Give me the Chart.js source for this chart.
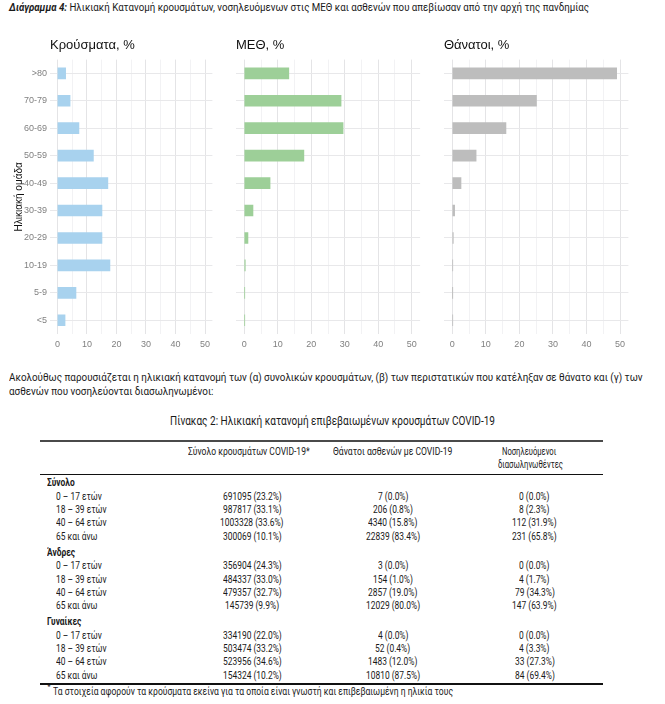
<!DOCTYPE html>
<html><head><meta charset="utf-8">
<script src="https://cdn.jsdelivr.net/npm/chart.js@4.4.1/dist/chart.umd.min.js"></script>
<style>
html,body{margin:0;padding:0;background:#fff;width:665px;height:704px;overflow:hidden;}
body{position:relative;font-family:Roboto,"Noto Sans",sans-serif;color:#1a1a1a;}
.t{position:absolute;white-space:nowrap;line-height:1;}
canvas{position:absolute;}
.rule{position:absolute;}
</style></head><body>
<canvas id="c1" width="216" height="320" style="left:0px;top:30px"></canvas>
<canvas id="c2" width="197" height="320" style="left:226px;top:30px"></canvas>
<canvas id="c3" width="197" height="320" style="left:434px;top:30px"></canvas>
<script>
// ---- chart data ----
const ageLabels = [">80","70-79","60-69","50-59","40-49","30-39","20-29","10-19","5-9","<5"];
const casesPct  = [2.8, 4.3, 7.3, 12.2, 17.1, 15.1, 15.1, 17.8, 6.3, 2.6];
const icuPct    = [13.3, 28.9, 29.5, 17.8, 7.7, 2.6, 1.1, 0.3, 0.1, 0.1];
const deathsPct = [49.0, 25.1, 16.0, 7.1, 2.6, 0.7, 0.3, 0.1, 0.05, 0.1];
const xTickValues = [0,5,10,15,20,25,30,35,40,45,50];
const panelTitles = ["Κρούσματα, %","ΜΕΘ, %","Θάνατοι, %"];
const yAxisTitle = "Ηλικιακή ομάδα";

// ---- table data ----
const tableSections = ["Σύνολο","Άνδρες","Γυναίκες"];
const tableAgeGroups = ["0 – 17 ετών","18 – 39 ετών","40 – 64 ετών","65 και άνω"];
const tableHeaders = ["Σύνολο κρουσμάτων COVID-19*","Θάνατοι ασθενών με COVID-19","Νοσηλευόμενοι","διασωληνωθέντες"];
const casesAll = [691095, 987817, 1003328, 300069];   const casesAllPct = [23.2, 33.1, 33.6, 10.1];
const deathsAll = [7, 206, 4340, 22839];             const deathsAllPct = [0.0, 0.8, 15.8, 83.4];
const icuAll = [0, 8, 112, 231];                     const icuAllPct = [0.0, 2.3, 31.9, 65.8];
const casesMen = [356904, 484337, 479357, 145739];   const casesMenPct = [24.3, 33.0, 32.7, 9.9];
const deathsMen = [3, 154, 2857, 12029];             const deathsMenPct = [0.0, 1.0, 19.0, 80.0];
const icuMen = [0, 4, 79, 147];                      const icuMenPct = [0.0, 1.7, 34.3, 63.9];
const casesWomen = [334190, 503474, 523956, 154324]; const casesWomenPct = [22.0, 33.2, 34.6, 10.2];
const deathsWomen = [4, 52, 1483, 10810];            const deathsWomenPct = [0.0, 0.4, 12.0, 87.5];
const icuWomen = [0, 4, 33, 84];                     const icuWomenPct = [0.0, 3.3, 27.3, 69.4];

const chartFont = "'Liberation Sans', Arial, sans-serif";

function makeChart(id, values, color, title, o) {
  new Chart(document.getElementById(id), {
    type: 'bar',
    data: { labels: ageLabels, datasets: [{ data: values, backgroundColor: color, borderWidth: 0, barThickness: 11 }] },
    options: {
      indexAxis: 'y', responsive: false, animation: false,
      layout: { padding: { left: o.padLeft, right: o.padRight, top: 0, bottom: 0 } },
      plugins: {
        legend: { display: false }, tooltip: { enabled: false },
        title: { display: true, text: title, align: 'start', fullSize: false, color: '#111',
                 font: { family: chartFont, size: 13, weight: 'normal', lineHeight: 1.2 },
                 padding: { top: 7.2, bottom: 6.8 } }
      },
      scales: {
        x: {
          type: 'linear', min: -2.5, max: 52.5,
          afterBuildTicks: s => { s.ticks = xTickValues.map(v => ({ value: v })); },
          afterFit: s => { s.height = 16; },
          ticks: { autoSkip: false, maxRotation: 0, padding: 5, color: '#808080',
                   font: { family: chartFont, size: 9 },
                   callback: v => (v % 10 === 0 ? String(v) : '') },
          grid: { drawTicks: false,
                  color: c => (c.tick && c.tick.value % 10 === 0 ? '#e4e4e6' : '#efeff1'),
                  lineWidth: c => (c.tick && c.tick.value % 10 === 0 ? 1 : 0.8) },
          border: { display: false }
        },
        y: {
          type: 'category', offset: true,
          afterFit: s => { s.width = o.yWidth; },
          ticks: { display: o.showY, padding: 3, color: '#808080', font: { family: chartFont, size: 9 } },
          grid: { offset: false, drawTicks: false, color: '#e8e8ea', lineWidth: 1 },
          border: { display: false },
          title: { display: o.showY, text: yAxisTitle, color: '#111',
                   font: { family: chartFont, size: 10, lineHeight: 1.2 }, padding: { top: 13, bottom: 0 } }
        }
      }
    }
  });
}

makeChart('c1', casesPct, '#a8d2ee', panelTitles[0], { padLeft: 0, padRight: 3.6, yWidth: 50, showY: true });
makeChart('c2', icuPct, '#9dcf98', panelTitles[1], { padLeft: 9.9, padRight: 2.9, yWidth: 0, showY: false });
makeChart('c3', deathsPct, '#bdbdbd', panelTitles[2], { padLeft: 9.9, padRight: 2.6, yWidth: 0, showY: false });

// ---- text helpers ----
function txt(html, x, y, o) {
  const el = document.createElement('div');
  el.className = 't';
  el.innerHTML = html;
  el.style.fontSize = o.fs + 'px';
  if (o.bold) el.style.fontWeight = 'bold';
  el.style.top = (y - o.fs * 0.55) + 'px';
  el.style.left = '0px';
  document.body.appendChild(el);
  const w = el.getBoundingClientRect().width;
  const s = o.w ? o.w / w : (o.sx || 1);
  el.style.transformOrigin = '0 0';
  el.style.transform = 'scaleX(' + s + ')';
  el.style.left = (o.align === 'center' ? x - w * s / 2 : x) + 'px';
  return s;
}
function rule(x1, x2, y, h, c) {
  const el = document.createElement('div');
  el.className = 'rule';
  el.style.left = x1 + 'px'; el.style.width = (x2 - x1) + 'px';
  el.style.top = (y - h / 2) + 'px'; el.style.height = h + 'px'; el.style.background = c;
  document.body.appendChild(el);
}

// header and paragraph
txt('<b><i>Διάγραμμα 4:</i></b> Ηλικιακή Κατανομή κρουσμάτων, νοσηλευόμενων στις ΜΕΘ και ασθενών που απεβίωσαν από την αρχή της πανδημίας', 8.5, 9, { fs: 10.8, w: 580 });
const paraScale = txt('Ακολούθως παρουσιάζεται η ηλικιακή κατανομή των (α) συνολικών κρουσμάτων, (β) των περιστατικών που κατέληξαν σε θάνατο και (γ) των', 8.5, 379, { fs: 10.8, w: 633.5 });
txt('ασθενών που νοσηλεύονται διασωληνωμένοι:', 8.5, 393, { fs: 10.8, sx: paraScale });
txt('Πίνακας 2: Ηλικιακή κατανομή επιβεβαιωμένων κρουσμάτων COVID-19', 332.2, 421.7, { fs: 12.5, w: 325, align: 'center' });

// table
rule(40, 603, 441, 1.6, '#4a4a4a');
rule(40, 603, 474.5, 1.4, '#111');
txt(tableHeaders[0], 248.4, 452, { fs: 10, w: 121.6, align: 'center' });
txt(tableHeaders[1], 392.3, 452, { fs: 10, w: 119.4, align: 'center' });
txt(tableHeaders[2], 529.4, 452, { fs: 10, w: 54.2, align: 'center' });
txt(tableHeaders[3], 530.6, 465, { fs: 10, w: 65, align: 'center' });

const probe = document.createElement('div');
probe.className = 't'; probe.style.fontSize = '10px'; probe.textContent = '691095 (23.2%)';
document.body.appendChild(probe);
const bodyScale = 58.8 / probe.getBoundingClientRect().width;
probe.remove();

const fmt = (n, p) => n + ' (' + p.toFixed(1) + '%)';
const sectionData = [
  [casesAll, casesAllPct, deathsAll, deathsAllPct, icuAll, icuAllPct],
  [casesMen, casesMenPct, deathsMen, deathsMenPct, icuMen, icuMenPct],
  [casesWomen, casesWomenPct, deathsWomen, deathsWomenPct, icuWomen, icuWomenPct]
];
let y = 483.5;
tableSections.forEach((sec, si) => {
  txt(sec, 47, y, { fs: 10, bold: true, sx: bodyScale });
  y += 13.6;
  const d = sectionData[si];
  tableAgeGroups.forEach((ag, i) => {
    txt(ag, 55.5, y, { fs: 10, sx: bodyScale });
    txt(fmt(d[0][i], d[1][i]), 252, y, { fs: 10, sx: bodyScale, align: 'center' });
    txt(fmt(d[2][i], d[3][i]), 392.8, y, { fs: 10, sx: bodyScale, align: 'center' });
    txt(fmt(d[4][i], d[5][i]), 534.5, y, { fs: 10, sx: bodyScale, align: 'center' });
    if (i < 3) y += 13.3;
  });
  y += 16.1;
});
rule(40, 603, 684, 1.4, '#111');
txt('*', 47.5, 688, { fs: 7, sx: 1 });
txt('Τα στοιχεία αφορούν τα κρούσματα εκείνα για τα οποία είναι γνωστή και επιβεβαιωμένη η ηλικία τους', 53.3, 692, { fs: 10, w: 400 });
</script>
</body></html>
